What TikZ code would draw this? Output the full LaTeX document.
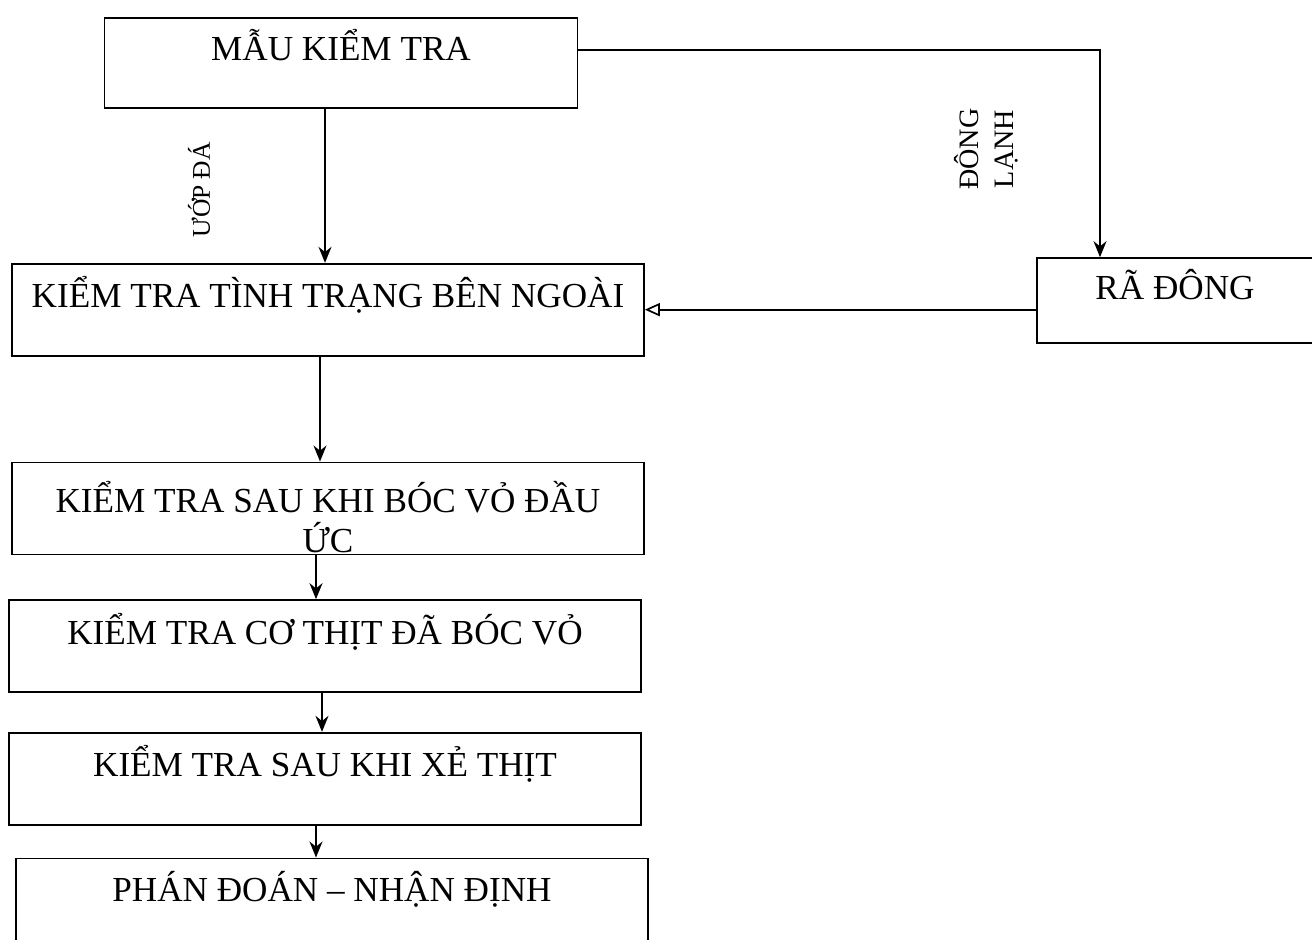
\documentclass[tikz,border=0pt]{standalone}
\usepackage{fontspec}
\setmainfont{Liberation Serif}
\usetikzlibrary{positioning, arrows.meta, calc}
\tikzset{>={Stealth[length=3.2mm, width=2.6mm]}}

\begin{document}
\begin{tikzpicture}[
    line width=0.95pt,
    stage/.style={draw, align=center, inner xsep=2pt, inner ysep=0pt,
                  minimum width=12.64cm,
                  text height=0.88cm, text depth=0.96cm,
                  font=\fontsize{20}{24}\selectfont},
    flow/.style={->},
    vlabel/.style={rotate=90, align=center, inner sep=0pt,
                   font=\fontsize{14.5}{19.8}\selectfont},
  ]
  \useasboundingbox (0,0) rectangle (26.24,-18.8);
  \node[stage, minimum width=9.46cm, text height=0.86cm, text depth=0.94cm]
    (sample) at (6.82,-1.26) {MẪU KIỂM TRA};
  \node[stage, below=3.08cm of sample, xshift=-2.6mm] (outer) {KIỂM TRA TÌNH TRẠNG BÊN NGOÀI};
  \node[stage, below=2.1cm of outer, text height=1.8cm, text depth=0.04cm,
        font=\fontsize{20}{22.7}\selectfont] (head)
    {KIỂM TRA SAU KHI BÓC VỎ ĐẦU\\ỨC};
  \node[stage, below=0.88cm of head, xshift=-0.6mm] (flesh) {KIỂM TRA CƠ THỊT ĐÃ BÓC VỎ};
  \node[stage, below=0.78cm of flesh] (cut) {KIỂM TRA SAU KHI XẺ THỊT};
  \node[stage, below=0.64cm of cut, xshift=1.4mm, text height=0.86cm, text depth=0.86cm]
    (verdict) {PHÁN ĐOÁN – NHẬN ĐỊNH};
  \node[stage, minimum width=5.52cm, text height=0.84cm, text depth=0.86cm]
    (thaw) at (23.5,-6.01) {RÃ ĐÔNG};

  % labels on the two routes
  \node[vlabel] (ice) at (3.98,-3.8) {ƯỚP ĐÁ};
  \node[vlabel, font=\fontsize{16}{19.8}\selectfont] (frozen) at (19.72,-2.98) {ĐÔNG\\LẠNH};

  % connectors
  \draw[flow] ([xshift=-3.2mm]sample.south) -- ([xshift=-3.2mm]sample.south |- outer.north);
  \draw[flow] ([yshift=2.6mm]sample.east) -| ([xshift=-15mm]thaw.north);
  \draw[-{Triangle[open, length=3mm, width=2.6mm]}] (thaw.west |- outer.east) -- (outer.east);
  \draw[flow] ([xshift=-1.6mm]outer.south) -- ([xshift=-1.6mm]outer.south |- head.north);
  \draw[flow] ([xshift=-2.4mm]head.south) -- ([xshift=-2.4mm]head.south |- flesh.north);
  \draw[flow] ([xshift=-0.6mm]flesh.south) -- ([xshift=-0.6mm]flesh.south |- cut.north);
  \draw[flow] ([xshift=-1.8mm]cut.south) -- ([xshift=-1.8mm]cut.south |- verdict.north);
\end{tikzpicture}
\end{document}
